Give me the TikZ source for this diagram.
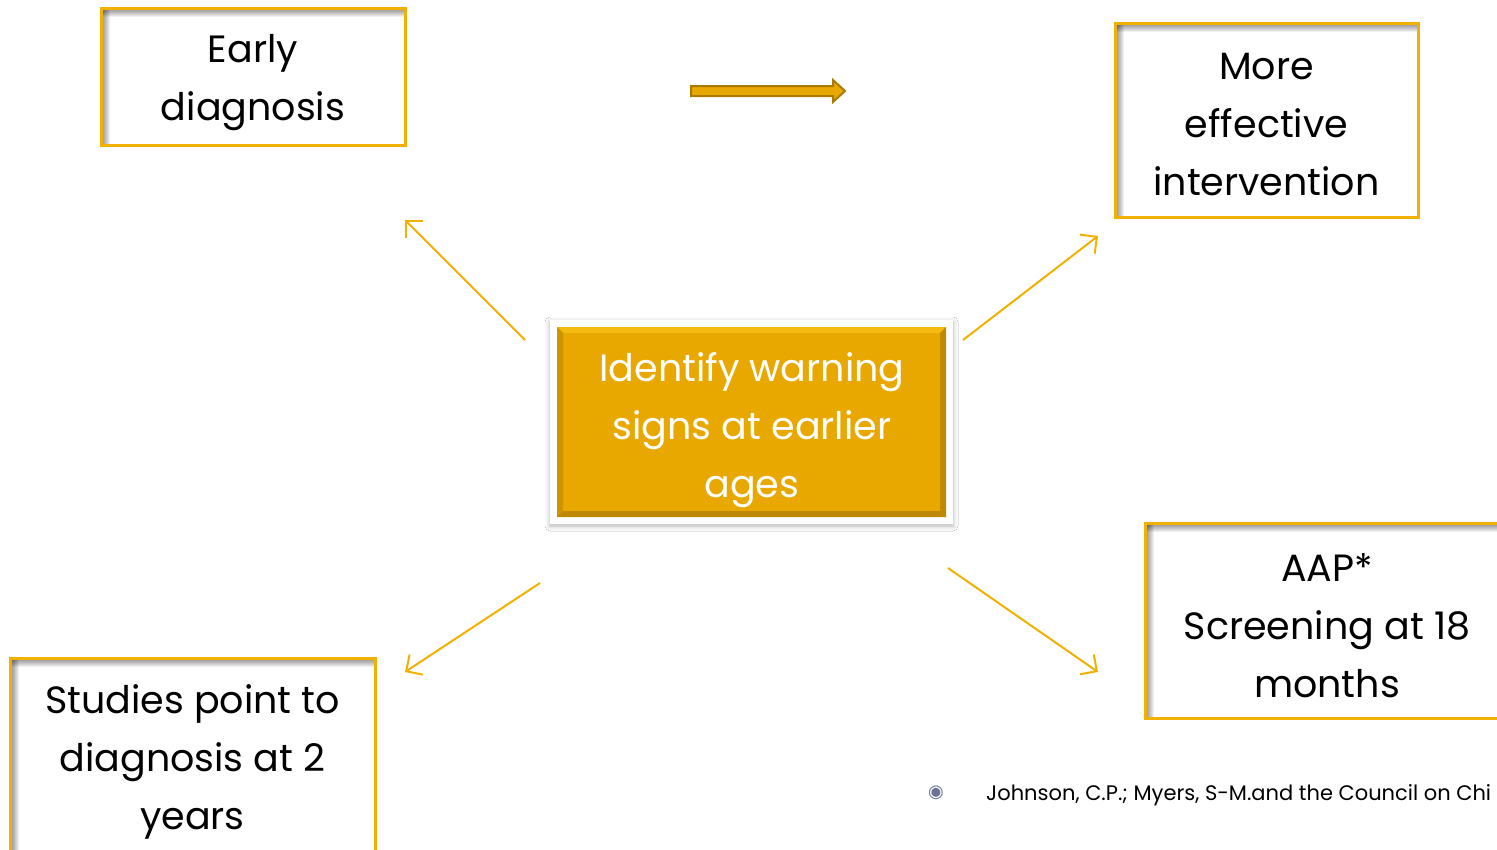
\documentclass[tikz,border=0pt]{standalone}
\usepackage{fontspec}
\setmainfont{Poppins}
\newfontfamily\symfont{DejaVu Sans}
\usetikzlibrary{arrows.meta,shadows.blur}
\definecolor{gold}{HTML}{F2B000}
\definecolor{goldfill}{HTML}{E8A800}
\definecolor{golddark}{HTML}{BC8900}
\definecolor{goldlight}{HTML}{F6BB10}
\definecolor{bulletblue}{HTML}{6A7396}
\tikzset{
  x=1pt, y=-1pt,
  infobox/.style={draw=gold, line width=3pt, fill=white, inner sep=0pt,
    path picture={
      \foreach \i in {1,...,9} {
        \fill[black, opacity=0.06] (path picture bounding box.north west)
          rectangle ([xshift=\i pt]path picture bounding box.south west);
        \fill[black, opacity=0.06] (path picture bounding box.north west)
          rectangle ([yshift=-\i pt]path picture bounding box.north east);
      }
    }},
  boxtext/.style={align=center, inner sep=0pt, font=\fontsize{38}{58}\selectfont},
  spoke/.style={draw=gold, line width=2pt,
    -{Straight Barb[length=12pt,width=24pt,line width=2pt]}},
}
\begin{document}
\begin{tikzpicture}
\clip (0,0) rectangle (1497,849);
\fill[white] (0,0) rectangle (1497,849);

% outer boxes and their captions
\node[infobox, minimum width=304pt, minimum height=137pt] (early) at (253,76.5) {};
\node[boxtext] (earlyT) at ([yshift=-6pt]early.center) {Early\\diagnosis};
\node[infobox, minimum width=303pt, minimum height=194pt] (effective) at (1266.5,120) {};
\node[boxtext] (effectiveT) at ([yshift=-5pt]effective.center)
  {More\\effective\\intervention};
\node[infobox, minimum width=364pt, minimum height=195pt] (aap) at (1327,620.5) {};
\node[boxtext] (aapT) at ([yshift=-5pt]aap.center) {AAP*\\Screening at 18\\months};
\node[infobox, minimum width=365pt, minimum height=199pt] (studies) at (192.5,757.5) {};
\node[boxtext] (studiesT) at ([yshift=-4pt]studies.center)
  {Studies point to\\diagnosis at 2\\years};

% central box: white frame with soft shadow, bevelled gold panel
\node[fill=white, minimum width=403pt, minimum height=204pt,
  blur shadow={shadow xshift=0pt, shadow yshift=-2pt, shadow blur radius=5pt,
  shadow opacity=30}] (frame) at (751.5,422) {};
\fill[goldfill] (557,327) rectangle (946,517);
\fill[goldlight] (557,327) -- (946,327) -- (940,333) -- (563,333) -- cycle;
\fill[goldfill!88!black] (557,327) -- (563,333) -- (563,511) -- (557,517) -- cycle;
\fill[golddark] (946,327) -- (946,517) -- (940,511) -- (940,333) -- cycle;
\fill[golddark] (557,517) -- (946,517) -- (940,511) -- (563,511) -- cycle;
\node[boxtext, text=white] (core) at (752,430)
  {Identify warning\\signs at earlier\\ages};

% spoke end points
\coordinate (nwA) at (525,340);  \coordinate (nwB) at (405,220);
\coordinate (neA) at (963,340);  \coordinate (neB) at (1098,236);
\coordinate (swA) at (540,583);  \coordinate (swB) at (405,672);
\coordinate (seA) at (948,568);  \coordinate (seB) at (1098,672);
\draw[spoke] (nwA) -- (nwB);
\draw[spoke] (neA) -- (neB);
\draw[spoke] (swA) -- (swB);
\draw[spoke] (seA) -- (seB);

% block arrow along the top
\draw[fill=goldfill, draw=golddark!90!black, line width=2pt, line join=miter]
  (691,86) -- (833,86) -- (833,80) -- (845,91) -- (833,102) -- (833,96)
  -- (691,96) -- cycle;

% reference line
\node[text=bulletblue, font=\symfont\fontsize{18}{20}\selectfont] (dot) at (936,793) {◉};
\node[anchor=base west, inner sep=0pt, font=\fontsize{21}{24}\selectfont] (ref) at (986,800)
  {Johnson, C.P.; Myers, S-M.and the Council on Chi};
\end{tikzpicture}
\end{document}
